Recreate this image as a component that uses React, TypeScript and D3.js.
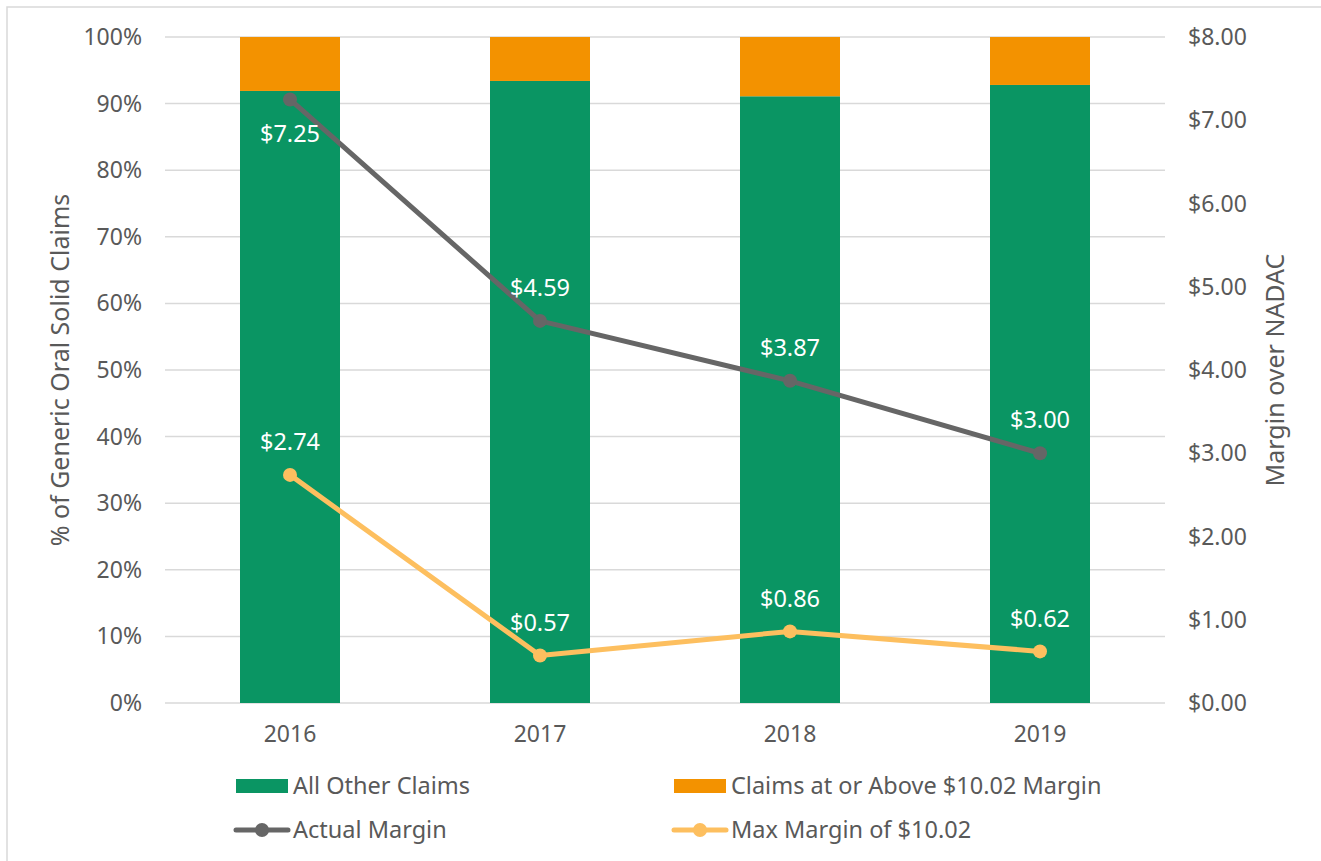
import React from "react";
import { scaleLinear, scaleBand, line } from "d3";

const years = ["2016", "2017", "2018", "2019"];
const otherClaims = [0.919, 0.934, 0.911, 0.928];
const aboveClaims = [0.081, 0.066, 0.089, 0.072];
const actualMargin = [7.25, 4.59, 3.87, 3.0];
const maxMargin = [2.74, 0.57, 0.86, 0.62];
const labelBelow = [true, false, false, false];
const pctTicks = [0, 0.1, 0.2, 0.3, 0.4, 0.5, 0.6, 0.7, 0.8, 0.9, 1];
const dollarTicks = [0, 1, 2, 3, 4, 5, 6, 7, 8];

const W = 1321;
const H = 861;
const left = 165;
const right = 1165;
const top = 37;
const bottom = 703;

const font = "'Noto Sans', sans-serif";
const textCol = "#595959";
const green = "#0a9563";
const orange = "#f39200";
const grey = "#666666";
const lightOrange = "#fdbf5f";

const tickSize = 23;
const legendSize = 23.5;

export default function App() {
  const x = scaleBand().domain(years).range([left, right]);
  const yPct = scaleLinear().domain([0, 1]).range([bottom, top]);
  const yDol = scaleLinear().domain([0, 8]).range([bottom, top]);
  const barW = 100;

  const mkLine = line<number>()
    .x((d, i) => (x(years[i]) as number) + x.bandwidth() / 2)
    .y((d) => yDol(d));

  const series = [
    { vals: actualMargin, color: grey, below: labelBelow },
    { vals: maxMargin, color: lightOrange, below: [false, false, false, false] },
  ];

  return (
    <svg
      width={W}
      height={H}
      style={{ position: "absolute", left: 0, top: 0 }}
      fontFamily={font}
    >
      <rect x={0} y={0} width={W} height={H} fill="#fff" />
      <rect x={7} y={7} width={W + 20} height={H + 20} fill="none" stroke="#d9d9d9" strokeWidth={1.5} />

      {pctTicks.map((t) => (
        <g key={t}>
          <line x1={left} x2={right} y1={yPct(t)} y2={yPct(t)} stroke="#d9d9d9" strokeWidth={1.5} />
          <text x={142} y={yPct(t)} dy="0.35em" textAnchor="end" fontSize={tickSize} fill={textCol}>
            {Math.round(t * 100)}%
          </text>
        </g>
      ))}
      {dollarTicks.map((t) => (
        <text key={t} x={1188} y={yDol(t)} dy="0.35em" fontSize={tickSize} fill={textCol}>
          ${t.toFixed(2)}
        </text>
      ))}

      {years.map((yr, i) => {
        const cx = (x(yr) as number) + x.bandwidth() / 2;
        return (
          <g key={yr}>
            <rect x={cx - barW / 2} y={yPct(otherClaims[i])} width={barW} height={bottom - yPct(otherClaims[i])} fill={green} />
            <rect
              x={cx - barW / 2}
              y={yPct(otherClaims[i] + aboveClaims[i])}
              width={barW}
              height={yPct(otherClaims[i]) - yPct(otherClaims[i] + aboveClaims[i])}
              fill={orange}
            />
            <text x={cx} y={734} dy="0.35em" textAnchor="middle" fontSize={tickSize} fill={textCol}>
              {yr}
            </text>
          </g>
        );
      })}

      {series.map((s, si) => (
        <g key={si}>
          <path d={mkLine(s.vals) || ""} fill="none" stroke={s.color} strokeWidth={5} strokeLinejoin="round" />
          {s.vals.map((v, i) => {
            const cx = (x(years[i]) as number) + x.bandwidth() / 2;
            return (
              <g key={i}>
                <circle cx={cx} cy={yDol(v)} r={7} fill={s.color} />
                <text
                  x={cx}
                  y={yDol(v) + (s.below[i] ? 34 : -33)}
                  dy="0.35em"
                  textAnchor="middle"
                  fontSize={23.5}
                  fill="#fff"
                >
                  ${v.toFixed(2)}
                </text>
              </g>
            );
          })}
        </g>
      ))}

      <text
        transform={`translate(60,${(top + bottom) / 2}) rotate(-90)`}
        textAnchor="middle"
        dy="0.35em"
        fontSize={25}
        fill={textCol}
      >
        % of Generic Oral Solid Claims
      </text>
      <text
        transform={`translate(1275,${(top + bottom) / 2}) rotate(-90)`}
        textAnchor="middle"
        dy="0.35em"
        fontSize={25}
        fill={textCol}
      >
        Margin over NADAC
      </text>

      {/* legend */}
      <rect x={236} y={779} width={52} height={14} fill={green} />
      <text x={293} y={786} dy="0.35em" fontSize={legendSize} fill={textCol}>All Other Claims</text>
      <rect x={674} y={779} width={52} height={14} fill={orange} />
      <text x={731} y={786} dy="0.35em" fontSize={legendSize} fill={textCol}>Claims at or Above $10.02 Margin</text>
      <line x1={236} x2={288} y1={830} y2={830} stroke={grey} strokeWidth={5} strokeLinecap="round" />
      <circle cx={262} cy={830} r={7} fill={grey} />
      <text x={293} y={830} dy="0.35em" fontSize={legendSize} fill={textCol}>Actual Margin</text>
      <line x1={674} x2={726} y1={830} y2={830} stroke={lightOrange} strokeWidth={5} strokeLinecap="round" />
      <circle cx={700} cy={830} r={7} fill={lightOrange} />
      <text x={731} y={830} dy="0.35em" fontSize={legendSize} fill={textCol}>Max Margin of $10.02</text>
    </svg>
  );
}
